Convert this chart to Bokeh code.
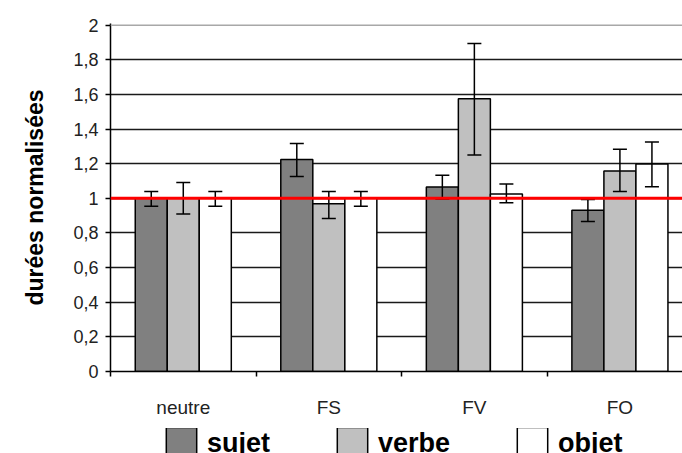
from bokeh.plotting import figure
from bokeh.layouts import column
from bokeh.models import (ColumnDataSource, Range1d, FixedTicker, Span, Whisker,
                          TeeHead, CustomJSTickFormatter, Legend, LegendItem)
from bokeh.embed import file_html
from bokeh.resources import INLINE

categories = ["neutre", "FS", "FV", "FO"]
series = ["sujet", "verbe", "objet"]
sujet = [1.0, 1.224, 1.065, 0.932]
verbe = [1.0, 0.969, 1.576, 1.158]
objet = [1.0, 1.0, 1.025, 1.198]
sujet_low = [0.955, 1.127, 0.997, 0.867]
sujet_high = [1.04, 1.317, 1.133, 0.994]
verbe_low = [0.909, 0.883, 1.25, 1.04]
verbe_high = [1.091, 1.04, 1.894, 1.283]
objet_low = [0.955, 0.955, 0.975, 1.067]
objet_high = [1.04, 1.04, 1.083, 1.325]
y_ticks = [0, 0.2, 0.4, 0.6, 0.8, 1, 1.2, 1.4, 1.6, 1.8, 2]
reference_level = 1

values = [sujet, verbe, objet]
lows = [sujet_low, verbe_low, objet_low]
highs = [sujet_high, verbe_high, objet_high]
colors = ["#808080", "#c0c0c0", "#ffffff"]
offsets = [-0.22, 0.0, 0.22]
bar_w = 0.22

p = figure(width=682, height=428, output_backend="svg", toolbar_location=None,
           x_range=Range1d(0, 3.93), y_range=Range1d(0, 2.01),
           min_border_left=110, min_border_right=0, min_border_top=23,
           min_border_bottom=57)
p.outline_line_color = None
p.background_fill_color = "white"
p.border_fill_color = "white"

# grid
p.xgrid.grid_line_color = None
p.ygrid.ticker = FixedTicker(ticks=y_ticks[1:-1])
p.ygrid.grid_line_color = "#1a1a1a"
p.ygrid.grid_line_width = 1.5

top_line = Span(location=y_ticks[-1], dimension="width", line_color="#a8a8a8", line_width=1.5)
p.add_layout(top_line)

sources = []
for name, vals, col, off in zip(series, values, colors, offsets):
    xs = [i + 0.5 + off for i in range(len(categories))]
    src = ColumnDataSource(dict(x=xs, top=vals))
    sources.append(src)
    p.vbar(x="x", top="top", width=bar_w, bottom=0, source=src,
           fill_color=col, line_color="black", line_width=1.5)

for lo, hi, off in zip(lows, highs, offsets):
    xs = [i + 0.5 + off for i in range(len(categories))]
    src = ColumnDataSource(dict(x=xs, lo=lo, hi=hi))
    w = Whisker(base="x", lower="lo", upper="hi", source=src, dimension="height",
                line_color="black", line_width=1.5, level="overlay",
                upper_head=TeeHead(size=14, line_color="black", line_width=1.5),
                lower_head=TeeHead(size=14, line_color="black", line_width=1.5))
    p.add_layout(w)

ref = Span(location=reference_level, dimension="width", line_color="#ff0000",
           line_width=3, level="overlay")
p.add_layout(ref)

# x axis
xa = p.xaxis[0]
xa.ticker = FixedTicker(ticks=[i + 0.5 for i in range(len(categories))],
                        minor_ticks=list(range(len(categories))))
xa.major_label_overrides = {i + 0.5: c for i, c in enumerate(categories)}
xa.major_tick_line_color = None
xa.major_tick_out = 0
xa.minor_tick_line_color = "black"
xa.minor_tick_line_width = 1.5
xa.minor_tick_out = 5
xa.minor_tick_in = 0
xa.axis_line_color = "black"
xa.axis_line_width = 1.5
xa.major_label_text_font = "Liberation Sans"
xa.major_label_text_font_size = "19px"
xa.major_label_text_color = "#222222"
xa.major_label_standoff = 20

# y axis
ya = p.yaxis[0]
ya.ticker = FixedTicker(ticks=y_ticks, minor_ticks=[])
ya.formatter = CustomJSTickFormatter(code="return (Math.round(tick*10)/10).toString().replace('.', ',');")
ya.major_tick_line_color = "black"
ya.major_tick_line_width = 1.5
ya.major_tick_out = 5
ya.major_tick_in = 0
ya.minor_tick_line_color = None
ya.axis_line_color = "black"
ya.axis_line_width = 1.5
ya.major_label_text_font = "Liberation Sans"
ya.major_label_text_font_size = "18px"
ya.major_label_text_color = "#222222"
ya.major_label_standoff = 7
ya.axis_label = "durées normalisées"
ya.axis_label_text_font = "Liberation Sans"
ya.axis_label_text_font_style = "bold"
ya.axis_label_text_font_size = "23px"
ya.axis_label_text_color = "black"
ya.axis_label_standoff = 22

# legend strip (separate figure below the chart); its bars lie outside its view
lf = figure(width=682, height=25, output_backend="svg", toolbar_location=None,
            x_range=Range1d(-20, -19), y_range=Range1d(10, 11),
            min_border=0, min_border_left=0, min_border_right=0,
            min_border_top=0, min_border_bottom=0)
lf.axis.visible = False
lf.grid.visible = False
lf.outline_line_color = None
lf.background_fill_color = "white"
lf.border_fill_color = "white"
items = []
for name, src, col in zip(series, sources, colors):
    r = lf.vbar(x="x", top="top", bottom=0, width=bar_w, source=src,
                fill_color=col, line_color="black", line_width=1.5)
    items.append(LegendItem(label=name, renderers=[r]))
lg = Legend(items=items, orientation="horizontal", location=(52, -10),
            padding=0, margin=0, spacing=63, label_standoff=7,
            glyph_width=38, glyph_height=40, border_line_color=None,
            background_fill_alpha=0, label_text_font="Liberation Sans",
            label_text_font_style="bold", label_text_font_size="27px",
            label_text_color="black", label_height=40)
lf.add_layout(lg, "center")

layout = column(p, lf, spacing=0)
open("out.html", "w").write(file_html(layout, INLINE))
